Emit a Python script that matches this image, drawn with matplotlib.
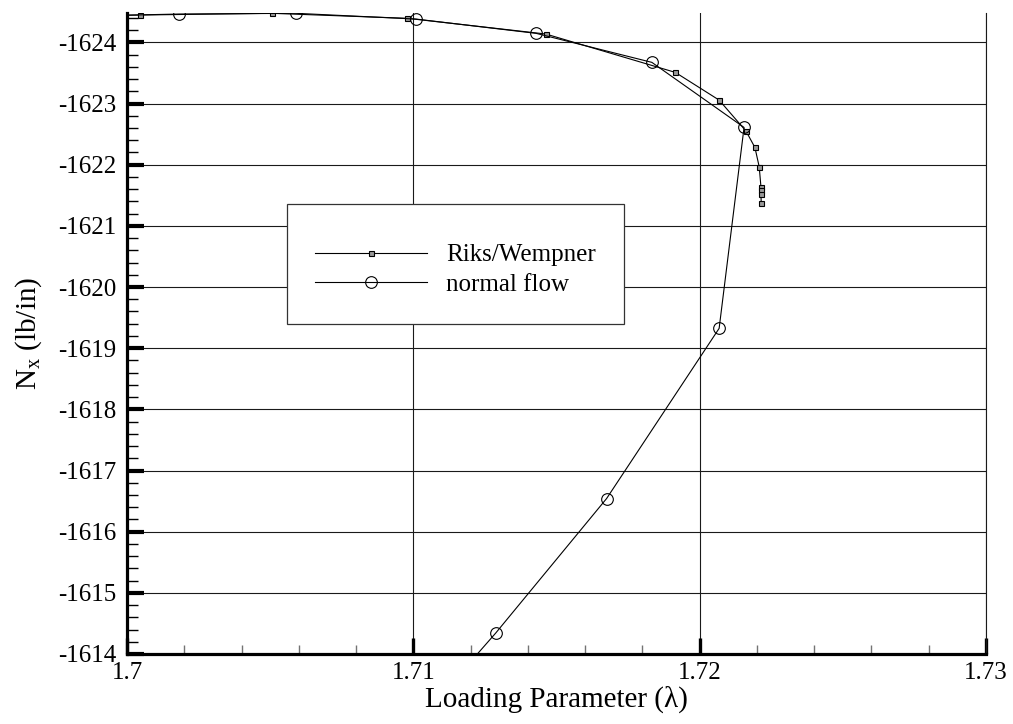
import matplotlib
matplotlib.use("Agg")
import matplotlib.pyplot as plt
from matplotlib.ticker import MultipleLocator, FormatStrFormatter

plt.rcParams['font.family'] = ['Liberation Serif', 'DejaVu Serif']
plt.rcParams['mathtext.fontset'] = 'custom'
plt.rcParams['mathtext.rm'] = 'Liberation Serif'
plt.rcParams['axes.unicode_minus'] = False

# Riks/Wempner path (small squares)
riks_lam = [1.6995, 1.70045, 1.70505, 1.70979, 1.71463, 1.71915, 1.72068,
            1.72162, 1.72193, 1.72208, 1.72214, 1.72214, 1.72214, 1.72215]
riks_nx = [-1624.44, -1624.447, -1624.475, -1624.393, -1624.136, -1623.509,
           -1623.056, -1622.548, -1622.281, -1621.964, -1621.637, -1621.583,
           -1621.517, -1621.375]

# normal flow path (open circles)
flow_lam = [1.6995, 1.70183, 1.70590, 1.71009, 1.71429, 1.71833, 1.72155,
            1.72068, 1.71675, 1.71288, 1.70877]
flow_nx = [-1624.44, -1624.463, -1624.475, -1624.381, -1624.147, -1623.673,
           -1622.609, -1619.324, -1616.542, -1614.344, -1612.15]

fig = plt.figure(figsize=(10.13, 7.24), dpi=100)
ax = fig.add_axes([127 / 1013, 1 - 654 / 724, 859 / 1013, 641 / 724])

ax.plot(riks_lam, riks_nx, color='black', lw=0.8, marker='s', ms=3.6,
        mfc='0.6', mec='black', mew=0.8, label='Riks/Wempner')
ax.plot(flow_lam, flow_nx, color='black', lw=0.8, marker='o', ms=8.4,
        mfc='none', mec='black', mew=0.8, label='normal flow')

ax.set_xlim(1.7, 1.73)
ax.set_ylim(-1614, -1624.48)

ax.xaxis.set_major_locator(MultipleLocator(0.01))
ax.xaxis.set_minor_locator(MultipleLocator(0.002))
ax.yaxis.set_major_locator(MultipleLocator(1))
ax.yaxis.set_minor_locator(MultipleLocator(0.2))
ax.xaxis.set_major_formatter(FormatStrFormatter('%g'))
ax.yaxis.set_major_formatter(FormatStrFormatter('%d'))

ax.grid(True, which='major', color='0.1', lw=0.8)
ax.set_axisbelow(True)

ax.spines['top'].set_visible(False)
ax.spines['right'].set_linewidth(0.8)
ax.spines['right'].set_color('0.1')
ax.spines['left'].set_linewidth(2.3)
ax.spines['bottom'].set_linewidth(2.3)

ax.tick_params(axis='both', which='both', direction='in', top=False, right=False)
ax.tick_params(axis='y', which='major', length=12, width=3, labelsize=18, pad=8)
ax.tick_params(axis='y', which='minor', length=8, width=1)
ax.tick_params(axis='x', which='major', length=11.5, width=2.4, labelsize=18, pad=6)
ax.tick_params(axis='x', which='minor', length=6.5, width=1, color='0.45')

ax.set_xlabel('Loading Parameter (\u03bb)', fontsize=21, labelpad=1)
ax.set_ylabel(r'N$_{\mathregular{x}}$ (lb/in)', fontsize=21, labelpad=10)

leg = ax.legend(loc='upper left', bbox_to_anchor=(0.186, 0.7016), fontsize=18,
                frameon=True, fancybox=False, borderpad=1.13, labelspacing=0.29,
                handlelength=4.48, handletextpad=0.75, borderaxespad=0,
                title=' ', title_fontsize=2)
leg.get_frame().set_edgecolor('0.2')
leg.get_frame().set_linewidth(0.9)
leg.get_frame().set_alpha(1)

fig.savefig('out.png', dpi=100)
